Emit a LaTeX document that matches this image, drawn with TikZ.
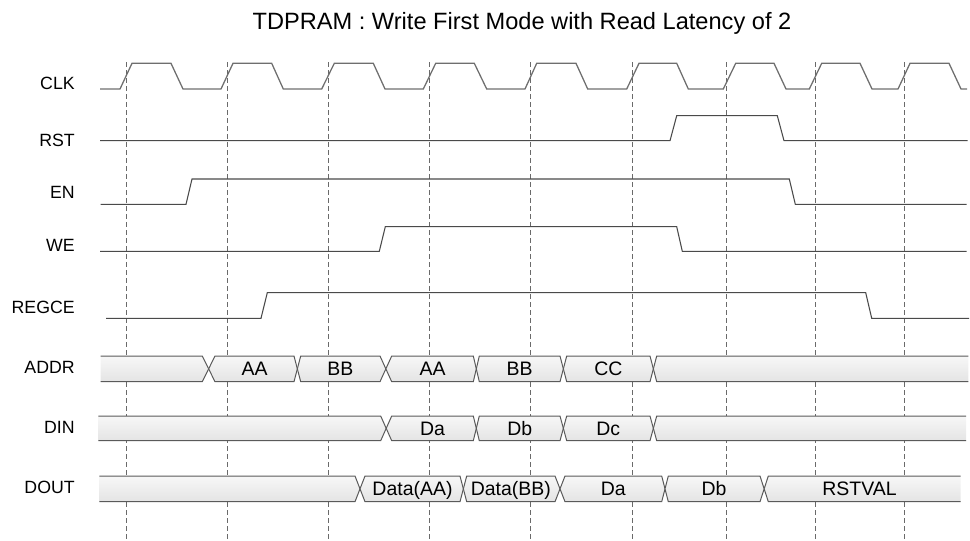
\documentclass[tikz,border=0pt]{standalone}
\usepackage{fontspec}
\setmainfont{Liberation Sans}
\definecolor{sigc}{HTML}{4A4A4A}
\definecolor{clkc}{HTML}{6E6E6E}
\definecolor{gridc}{HTML}{6A6A6A}
\definecolor{busc}{HTML}{5A5A5A}
\definecolor{bustop}{HTML}{F7F7F7}
\definecolor{busbot}{HTML}{E4E4E4}
\tikzset{
  sigline/.style={draw=sigc, line width=0.8pt, line join=miter},
  clkline/.style={draw=clkc, line width=0.95pt},
  gridline/.style={draw=gridc, line width=0.7pt, dash pattern=on 4pt off 2pt},
  busst/.style={draw=busc, line width=0.75pt, top color=bustop, bottom color=busbot},
  lbl/.style={anchor=base east, inner sep=0pt, font=\fontsize{13.3}{15}\selectfont},
  buslbl/.style={anchor=base, inner sep=0pt, font=\fontsize{14.6}{16}\selectfont},
  ttl/.style={anchor=base, inner sep=0pt, font=\fontsize{17.7}{20}\selectfont}
}
% closed bus segment between crossing (#1,#2) and crossing (#3,#4), top #5, bottom #6
\newcommand\bseg[6]{\shadedraw[busst] ({(#1+#2)/2},{(#5+#6)/2}) -- (#2,#5) -- (#3,#5) -- ({(#3+#4)/2},{(#5+#6)/2}) -- (#3,#6) -- (#2,#6) -- cycle;}
% open-left segment from x=#1 to crossing (#2,#3)
\newcommand\bsegl[5]{\shadedraw[busst] (#1,#4) -- (#2,#4) -- ({(#2+#3)/2},{(#4+#5)/2}) -- (#2,#5) -- (#1,#5);}
% open-right segment from crossing (#1,#2) to x=#3
\newcommand\bsegr[5]{\shadedraw[busst] (#3,#4) -- (#2,#4) -- ({(#1+#2)/2},{(#4+#5)/2}) -- (#2,#5) -- (#3,#5);}
\begin{document}
\begin{tikzpicture}[x=0.75pt,y=-0.75pt]
\useasboundingbox (0,0) rectangle (970,540);
% title
\node[ttl] (title) at (522,29.8) {TDPRAM : Write First Mode with Read Latency of 2};
% grid lines
\foreach \gx [count=\i] in {126,227.3,328.3,429.3,530.7,632.3,726.7,815.3,904}
  \draw[gridline] (\gx,62) -- (\gx,539);
% labels
\node[lbl] (lclk) at (75,89.6) {CLK};
\node[lbl] (lrst) at (75,146.3) {RST};
\node[lbl] (len) at (75,198) {EN};
\node[lbl] (lwe) at (75,251.3) {WE};
\node[lbl] (lregce) at (75,313) {REGCE};
\node[lbl] (laddr) at (75,373) {ADDR};
\node[lbl] (ldin) at (75,433) {DIN};
\node[lbl] (ldout) at (75,493) {DOUT};
% clock
\draw[clkline] (100,89) -- (120,89) -- (132,63.3) -- (171,63.3) -- (183,89) -- (221,89) -- (233,63.3) -- (271.7,63.3) -- (283.3,89) -- (321.7,89) -- (334.3,63.3) -- (373.3,63.3) -- (385,89) -- (423.3,89) -- (435.7,63.3) -- (474.3,63.3) -- (486.7,89) -- (525,89) -- (536.7,63.3) -- (576,63.3) -- (587.7,89) -- (626.7,89) -- (639,63.3) -- (676.7,63.3) -- (688.3,89) -- (723.3,89) -- (735.7,63.3) -- (774,63.3) -- (786,89) -- (809.3,89) -- (821.7,63.3) -- (860,63.3) -- (872,89) -- (898,89) -- (910,63.3) -- (949,63.3) -- (961,89) -- (967,89);
% RST
\draw[sigline] (100,140.7) -- (670,140.7) -- (676.7,115.7) -- (777.3,115.7) -- (784,140.7) -- (967.7,140.7);
% EN
\draw[sigline] (100.7,204.3) -- (186,204.3) -- (192,179) -- (789.3,179) -- (795.3,204.3) -- (966.7,204.3);
% WE
\draw[sigline] (100,251.3) -- (379.3,251.3) -- (385.3,226.7) -- (676.7,226.7) -- (682.3,251.3) -- (966.7,251.3);
% REGCE
\draw[sigline] (106,318.3) -- (261,318.3) -- (267.3,292.7) -- (865.7,292.7) -- (871.7,318.3) -- (969,318.3);
% ADDR bus
\bsegl{100.7}{202.3}{215}{356}{381.7}
\bseg{202.3}{215}{294}{300.7}{356}{381.7}
\bseg{294}{300.7}{380}{391.7}{356}{381.7}
\bseg{380}{391.7}{473.3}{479.3}{356}{381.7}
\bseg{473.3}{479.3}{560}{566.7}{356}{381.7}
\bseg{560}{566.7}{650}{656.7}{356}{381.7}
\bsegr{650}{656.7}{968.3}{356}{381.7}
\node[buslbl] (a1) at (254.5,375.8) {AA};
\node[buslbl] (a2) at (340.3,375.8) {BB};
\node[buslbl] (a3) at (432.5,375.8) {AA};
\node[buslbl] (a4) at (519.7,375.8) {BB};
\node[buslbl] (a5) at (608.3,375.8) {CC};
% DIN bus
\bsegl{98.3}{380.7}{391.7}{416}{440.7}
\bseg{380.7}{391.7}{473.3}{479.3}{416}{440.7}
\bseg{473.3}{479.3}{560}{566.7}{416}{440.7}
\bseg{560}{566.7}{650}{656.7}{416}{440.7}
\bsegr{650}{656.7}{966}{416}{440.7}
\node[buslbl] (d1) at (432.5,435.3) {Da};
\node[buslbl] (d2) at (519.7,435.3) {Db};
\node[buslbl] (d3) at (608.3,435.3) {Dc};
% DOUT bus
\bsegl{99.3}{355}{365}{476}{501.7}
\bseg{355}{365}{460}{466.7}{476}{501.7}
\bseg{460}{466.7}{555}{565}{476}{501.7}
\bseg{555}{565}{661.7}{668.3}{476}{501.7}
\bseg{661.7}{668.3}{760}{768.3}{476}{501.7}
\bsegr{760}{768.3}{960.7}{476}{501.7}
\node[buslbl] (o1) at (412.5,495.8) {Data(AA)};
\node[buslbl] (o2) at (510.8,495.8) {Data(BB)};
\node[buslbl] (o3) at (613.3,495.8) {Da};
\node[buslbl] (o4) at (714,495.8) {Db};
\node[buslbl] (o5) at (859.5,495.8) {RSTVAL};
\end{tikzpicture}
\end{document}
